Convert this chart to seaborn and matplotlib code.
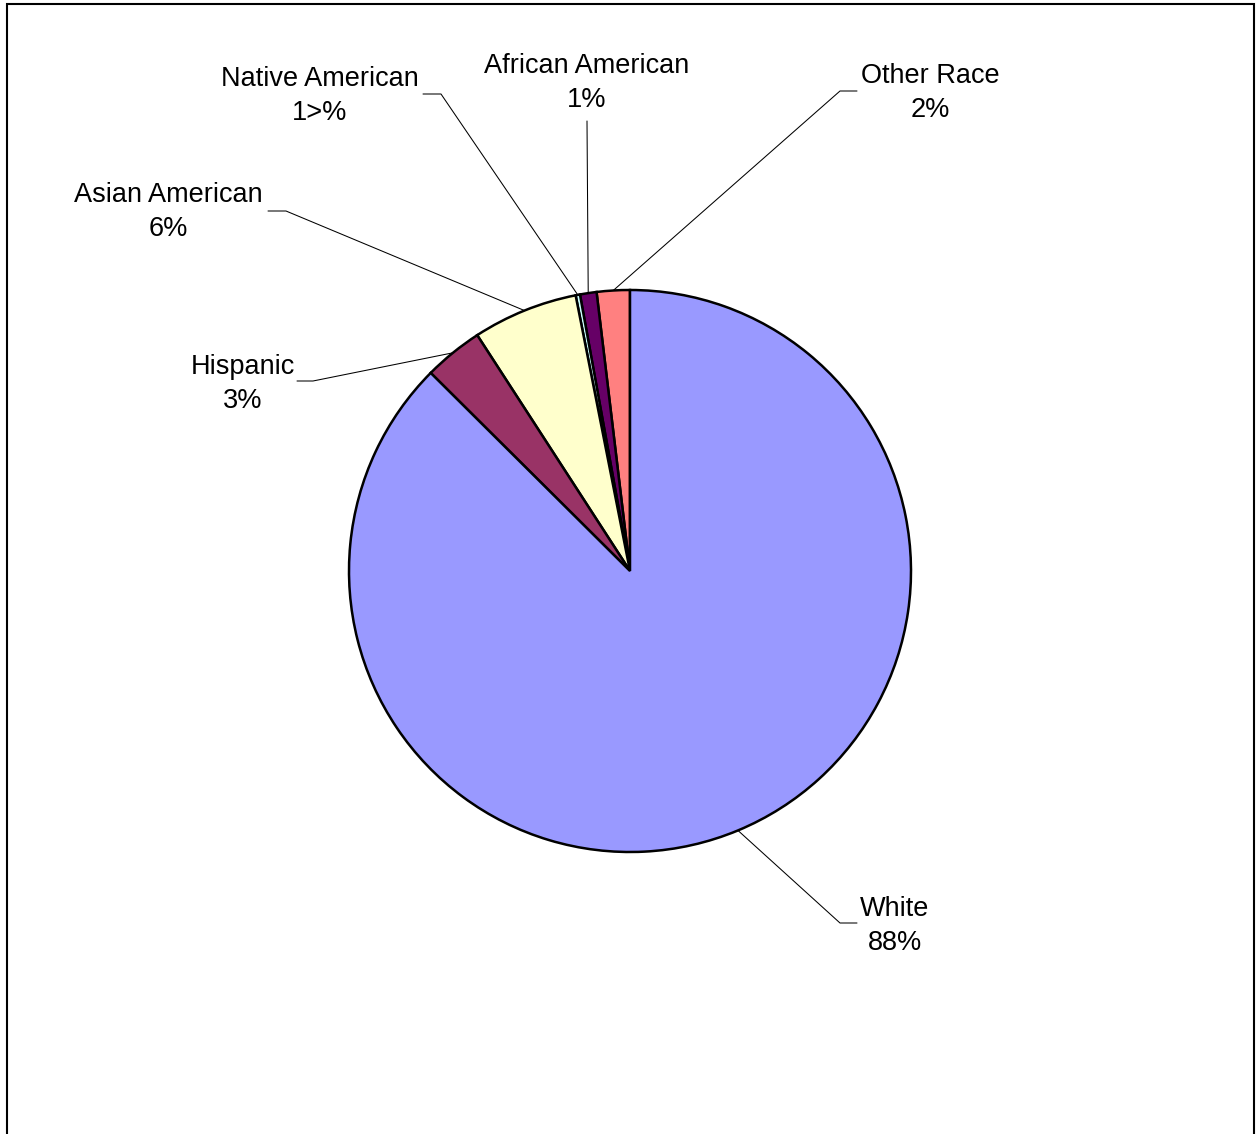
import numpy as np
import matplotlib
matplotlib.use("Agg")
import matplotlib.pyplot as plt
from matplotlib.patches import Rectangle
import seaborn as sns

# ---- data ----
categories = ["Other Race", "African American", "Native American",
              "Asian American", "Hispanic", "White"]
values = [1.9, 0.95, 0.25, 6.05, 3.4, 87.45]
value_labels = ["2%", "1%", "1>%", "6%", "3%", "88%"]
colors = ["#FF8080", "#660066", "#CCFFFF", "#FFFFCC", "#993366", "#9999FF"]

# ---- layout (pixel positions of labels and leader elbows) ----
W, H = 1257, 1134
CX, CY, R = 630, 571, 281
text_px = [(930, 93), (587, 83), (320, 96), (168, 212), (243, 384), (895, 926)]
elbow_px = [[(857, 91), (840, 91)],
            [(587, 121)],
            [(423, 94), (441, 94)],
            [(268, 211), (286, 211)],
            [(297, 381), (313, 381)],
            [(857, 923), (840, 923)]]

def to_data(px, py):
    return (px - CX) / R, (CY - py) / R

sns.set_theme(style="white")
plt.rcParams['font.family'] = ['Liberation Sans', 'DejaVu Sans']

fig = plt.figure(figsize=(W / 100, H / 100), dpi=100)
ax = fig.add_axes([0, 0, 1, 1])
ax.set_xlim(-CX / R, (W - CX) / R)
ax.set_ylim(-(H - CY) / R, CY / R)
ax.set_aspect("equal")
ax.axis("off")

wedges, _ = ax.pie(values, colors=sns.color_palette(colors), startangle=90,
                   counterclock=True, radius=1.0, center=(0, 0),
                   wedgeprops=dict(edgecolor="black", linewidth=1.8))
ax.set_xlim(-CX / R, (W - CX) / R)
ax.set_ylim(-(H - CY) / R, CY / R)

for w, cat, vl, tp, el in zip(wedges, categories, value_labels, text_px, elbow_px):
    mid = np.deg2rad((w.theta1 + w.theta2) / 2)
    ex, ey = np.cos(mid), np.sin(mid)
    pts = [to_data(*p) for p in el] + [(ex, ey)]
    xs = [p[0] for p in pts]
    ys = [p[1] for p in pts]
    ax.plot(xs, ys, color="black", linewidth=0.75, zorder=1)
    tx, ty = to_data(*tp)
    ax.text(tx, ty, f"{cat}\n{vl}", ha="center", va="center",
            fontsize=19.5, color="black", linespacing=1.36)

# chart border
fig.patches.append(Rectangle((7 / W, -0.01), (1254 - 7) / W, 1.01 - 4 / H,
                             transform=fig.transFigure, fill=False,
                             edgecolor="black", linewidth=1.5))

fig.savefig("out.png", dpi=100)
